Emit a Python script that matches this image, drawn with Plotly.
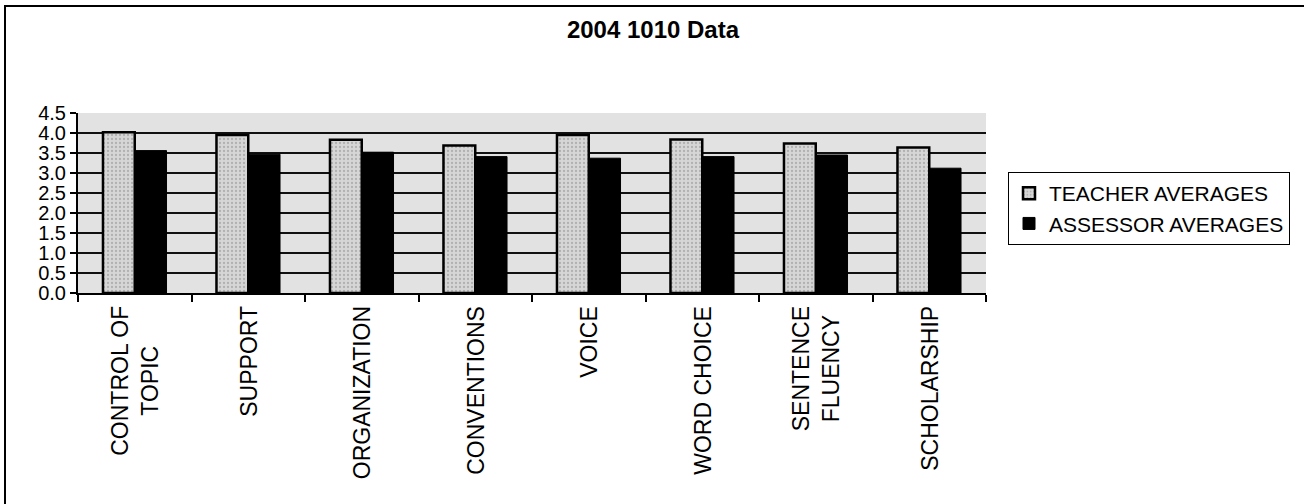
import plotly.graph_objects as go

# Writing-assessment category averages, 2004 (course 1010)
categories = [
    "CONTROL OF<br>TOPIC", "SUPPORT", "ORGANIZATION", "CONVENTIONS",
    "VOICE", "WORD CHOICE", "SENTENCE<br>FLUENCY", "SCHOLARSHIP",
]
teacher_avg = [4.02, 3.95, 3.83, 3.69, 3.95, 3.84, 3.74, 3.64]
assessor_avg = [3.56, 3.47, 3.52, 3.41, 3.37, 3.41, 3.45, 3.12]
y_ticks = [0.0, 0.5, 1.0, 1.5, 2.0, 2.5, 3.0, 3.5, 4.0, 4.5]

W, H = 1304, 504
L, R, T, B = 78, 318, 113, 211
pw, ph = W - L - R, H - T - B

fig = go.Figure()
fig.add_trace(go.Bar(
    name="TEACHER AVERAGES", x=categories, y=teacher_avg,
    marker=dict(color="#cfcfcf", line=dict(color="black", width=2.5),
                pattern=dict(shape=".", fgcolor="#8a8a8a", bgcolor="#d6d6d6",
                             size=4, solidity=0.25)),
))
fig.add_trace(go.Bar(
    name="ASSESSOR AVERAGES", x=categories, y=assessor_avg,
    marker=dict(color="black", line=dict(color="black", width=1)),
))

font = "Liberation Sans, Arial, sans-serif"


def px_x(v):
    return (v - L) / pw


def px_y(v):
    return (H - B - v) / ph


# category labels: vertical, centred lines, hanging just below the axis
for cat in categories:
    fig.add_annotation(
        x=cat, xref="x", y=px_y(304), yref="paper",
        text=cat, textangle=-90, showarrow=False,
        xanchor="center", yanchor="top", align="center",
        font=dict(size=23, family=font, color="black"),
    )

# outer chart frame (left and top edges visible)
fig.add_shape(type="rect", xref="paper", yref="paper",
              x0=px_x(5), x1=px_x(1330), y0=px_y(530), y1=px_y(6),
              line=dict(color="black", width=2), fillcolor="rgba(0,0,0,0)",
              layer="above")

fig.update_layout(
    width=W, height=H,
    margin=dict(l=L, r=R, t=T, b=B, pad=0, autoexpand=False),
    paper_bgcolor="white",
    plot_bgcolor="#e2e2e2",
    barmode="group", bargap=0.44, bargroupgap=0.0,
    font=dict(family=font, color="black"),
    title=dict(text="<b>2004 1010 Data</b>", x=px_x(653), xanchor="center",
               xref="paper", y=1 - 30 / H, yanchor="middle",
               font=dict(size=24, family=font, color="black")),
    showlegend=True,
    legend=dict(x=px_x(1008), y=px_y(172), xanchor="left", yanchor="top",
                xref="paper", yref="paper",
                bordercolor="black", borderwidth=1, bgcolor="white",
                font=dict(size=21, family=font, color="black"),
                itemwidth=30, tracegroupgap=0),
    xaxis=dict(
        type="category", tickson="boundaries", showticklabels=False,
        ticks="outside", ticklen=7, tickcolor="black", tickwidth=2,
        showline=True, linecolor="black", linewidth=2,
        showgrid=False,
        range=[-0.5, len(categories) - 0.5],
    ),
    yaxis=dict(
        range=[0, 4.5], tickvals=y_ticks,
        ticktext=[f"{v:.1f}" for v in y_ticks],
        ticks="outside", ticklen=6, tickcolor="black", tickwidth=2,
        showline=True, linecolor="black", linewidth=2, mirror=False,
        showgrid=True, gridcolor="#111111", gridwidth=2,
        zeroline=False,
        tickfont=dict(size=20, family=font, color="black"),
    ),
)

fig.write_html("out.html")
